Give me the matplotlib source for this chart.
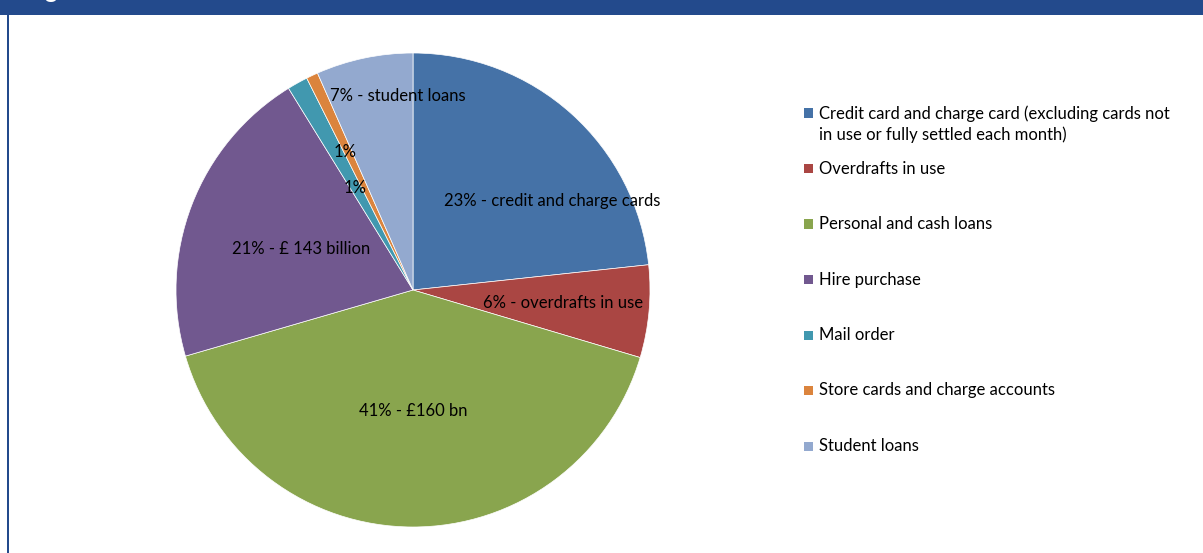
import matplotlib
matplotlib.use('Agg')
import matplotlib.pyplot as plt
from matplotlib.patches import Rectangle

plt.rcParams['font.family'] = ['Lato', 'DejaVu Sans']

# share of consumer credit by type (%)
categories = ['Credit card and charge card (excluding cards not\nin use or fully settled each month)',
              'Overdrafts in use',
              'Personal and cash loans',
              'Hire purchase',
              'Mail order',
              'Store cards and charge accounts',
              'Student loans']
shares = [23.3, 6.3, 40.9, 20.7, 1.4, 0.8, 6.6]
slice_labels = ['23% - credit and charge cards',
                '6% - overdrafts in use',
                '41% - £160 bn',
                '21% - £ 143 billion',
                '1%',
                '1%',
                '7% - student loans']
colors = ['#4572A7', '#AA4643', '#89A54E', '#71588F', '#4198AF', '#DB843D', '#93A9CF']

# where each label sits inside the pie (data units, radius = 1)
label_pos = [(0.589, 0.376), (0.635, -0.055), (0.0, -0.511), (-0.473, 0.173),
             (-0.287, 0.582), (-0.245, 0.430), (-0.065, 0.819)]

W, H = 1203, 553
fig = plt.figure(figsize=(W / 100, H / 100), dpi=100)
fig.patch.set_facecolor('white')

# header bar and left frame line
fig.patches.append(Rectangle((0, 1 - 15 / H), 1, 15 / H, transform=fig.transFigure,
                             facecolor='#234A8C', edgecolor='none', zorder=0))
fig.patches.append(Rectangle((7 / W, 0), 2 / W, 1 - 15 / H, transform=fig.transFigure,
                             facecolor='#234A8C', edgecolor='none', zorder=0))
fig.text(44 / W, 1 + 9 / H, 'g', color='white', fontsize=17, fontweight='bold',
         ha='left', va='center')

cx, cy, r = 413, 290, 237
ax = fig.add_axes([(cx - r) / W, (H - cy - r) / H, 2 * r / W, 2 * r / H])
ax.pie(shares, colors=colors, startangle=90, counterclock=False, radius=1,
       wedgeprops=dict(edgecolor='white', linewidth=0.5))
ax.set_xlim(-1.0, 1.0)
ax.set_ylim(-1.0, 1.0)
ax.set_aspect('equal')
ax.axis('off')

for (x, y), txt in zip(label_pos, slice_labels):
    ax.text(x, y, txt, ha='center', va='center', fontsize=12, color='black')

# legend on the right
y_first = 113
step = 55.5
for i, (lab, col) in enumerate(zip(categories, colors)):
    y = y_first + step * i
    fig.patches.append(Rectangle((804 / W, 1 - (y + 4.5) / H), 9 / W, 9 / H,
                                 transform=fig.transFigure, facecolor=col, edgecolor='none'))
    fig.text(819 / W, 1 - (y - 8) / H, lab, ha='left', va='top', fontsize=12,
             linespacing=1.36, color='black')

fig.savefig('out.png', dpi=100)
